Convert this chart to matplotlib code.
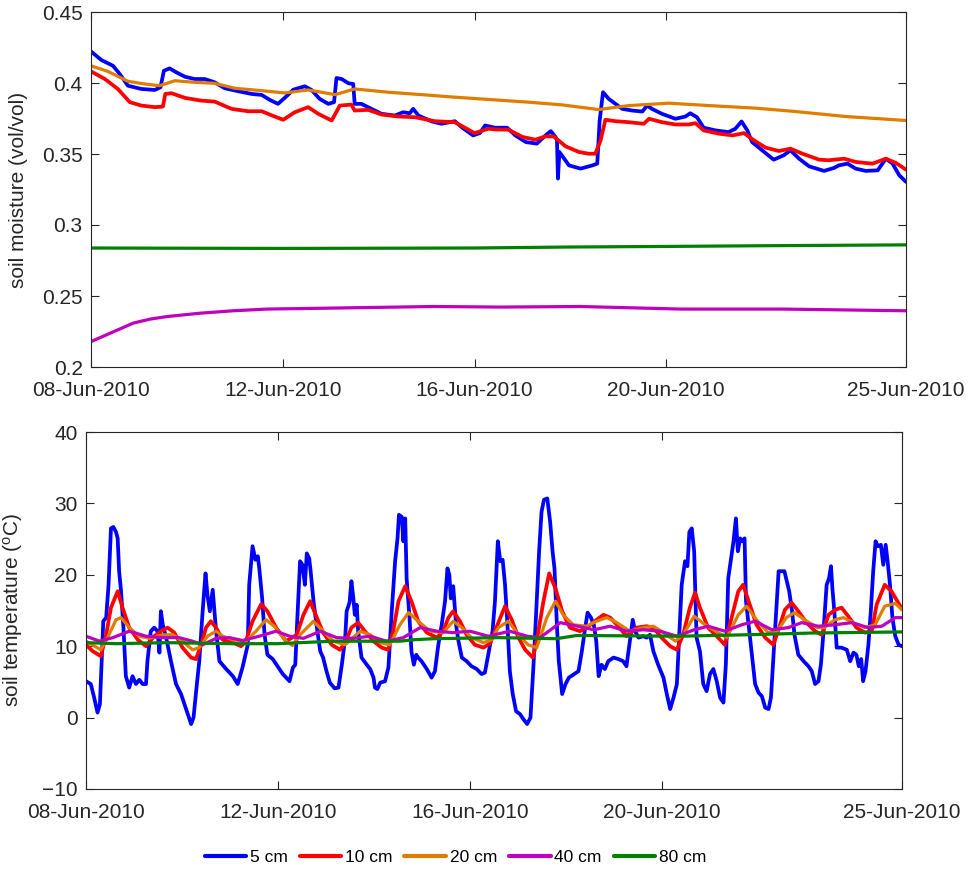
import datetime as dt
import matplotlib
matplotlib.use("Agg")
import matplotlib.pyplot as plt
import matplotlib.dates as mdates
import numpy as np

plt.rcParams['font.family'] = ['Liberation Sans', 'DejaVu Sans']
plt.rcParams['mathtext.fontset'] = 'custom'
plt.rcParams['mathtext.rm'] = 'Liberation Sans'
plt.rcParams['mathtext.it'] = 'Liberation Sans'

START = dt.datetime(2010, 6, 8)
END = dt.datetime(2010, 6, 25)

depths = ['5 cm', '10 cm', '20 cm', '40 cm', '80 cm']
colors = ['#0000ff', '#ff0000', '#de7d00', '#bf00bf', '#008000']
widths = [2.7, 2.7, 2.3, 2.3, 2.3]

xtick_dates = ['2010-06-08', '2010-06-12', '2010-06-16', '2010-06-20', '2010-06-25']

# ---- soil moisture (vol/vol), time in days since 08-Jun-2010 ----
sm5_day = [0, 0.22, 0.46, 0.60, 0.77, 1.05, 1.33, 1.45, 1.52, 1.64,
           1.78, 1.96, 2.16, 2.37, 2.58, 2.79, 3.07, 3.35, 3.56, 3.73,
           3.90, 4.04, 4.22, 4.46, 4.60, 4.77, 4.95, 5.07, 5.12, 5.23,
           5.37, 5.47, 5.50, 5.64, 5.85, 6.06, 6.34, 6.51, 6.65, 6.72,
           6.83, 7.11, 7.31, 7.59, 7.73, 7.97, 8.11, 8.22, 8.43, 8.68,
           8.85, 9.07, 9.30, 9.48, 9.59, 9.69, 9.72, 9.74, 9.77, 9.97,
           10.21, 10.46, 10.56, 10.61, 10.68, 10.80, 10.94, 11.08, 11.29, 11.50,
           11.60, 11.70, 11.91, 12.19, 12.40, 12.50, 12.64, 12.78, 13.03, 13.30,
           13.44, 13.57, 13.69, 13.79, 14.00, 14.24, 14.45, 14.59, 14.77, 14.98,
           15.29, 15.50, 15.60, 15.78, 15.95, 16.16, 16.41, 16.58, 16.72, 16.86,
           17.0]
sm5_val = [0.4222, 0.4161, 0.4121, 0.4063, 0.3981, 0.3958, 0.3951, 0.3970, 0.4086, 0.4103,
           0.4075, 0.4044, 0.4028, 0.4028, 0.4005, 0.3963, 0.3942, 0.3923, 0.3916, 0.3881,
           0.3853, 0.3895, 0.3953, 0.3977, 0.3951, 0.3888, 0.3853, 0.3865, 0.4035, 0.4028,
           0.3998, 0.3993, 0.3853, 0.3853, 0.3818, 0.3783, 0.3771, 0.3794, 0.3787, 0.3818,
           0.3771, 0.3729, 0.3713, 0.3731, 0.3689, 0.3631, 0.3647, 0.3701, 0.3685, 0.3685,
           0.3631, 0.3584, 0.3573, 0.3631, 0.3661, 0.3620, 0.3596, 0.3327, 0.3514, 0.3420,
           0.3397, 0.3420, 0.3432, 0.3736, 0.3935, 0.3888, 0.3853, 0.3818, 0.3806, 0.3799,
           0.3841, 0.3818, 0.3783, 0.3748, 0.3764, 0.3787, 0.3759, 0.3685, 0.3666, 0.3654,
           0.3678, 0.3729, 0.3666, 0.3584, 0.3526, 0.3460, 0.3491, 0.3526, 0.3467, 0.3413,
           0.3381, 0.3402, 0.3420, 0.3432, 0.3397, 0.3381, 0.3385, 0.3467, 0.3432, 0.3350,
           0.3304]

sm10_day = [0, 0.29, 0.56, 0.81, 1.05, 1.33, 1.50, 1.55, 1.68, 1.96,
            2.30, 2.58, 2.93, 3.28, 3.56, 3.83, 4.01, 4.25, 4.53, 4.74,
            5.02, 5.19, 5.43, 5.50, 5.78, 6.06, 6.41, 6.76, 7.17, 7.59,
            7.80, 8.00, 8.29, 8.43, 8.71, 9.00, 9.27, 9.48, 9.65, 9.90,
            10.18, 10.38, 10.52, 10.63, 10.73, 10.94, 11.22, 11.53, 11.64, 11.91,
            12.19, 12.47, 12.61, 12.78, 13.10, 13.38, 13.62, 13.83, 14.07, 14.35,
            14.59, 14.84, 15.19, 15.39, 15.71, 15.95, 16.30, 16.58, 16.79, 17.0]
sm10_val = [0.4082, 0.4028, 0.3958, 0.3865, 0.3841, 0.3830, 0.3834, 0.3923, 0.3928, 0.3895,
            0.3876, 0.3869, 0.3818, 0.3801, 0.3801, 0.3764, 0.3741, 0.3794, 0.3830, 0.3783,
            0.3736, 0.3841, 0.3848, 0.3806, 0.3811, 0.3778, 0.3764, 0.3759, 0.3731, 0.3724,
            0.3685, 0.3647, 0.3678, 0.3673, 0.3671, 0.3620, 0.3601, 0.3624, 0.3624, 0.3554,
            0.3514, 0.3502, 0.3502, 0.3596, 0.3741, 0.3731, 0.3724, 0.3713, 0.3748, 0.3724,
            0.3708, 0.3708, 0.3717, 0.3666, 0.3643, 0.3631, 0.3647, 0.3596, 0.3545, 0.3521,
            0.3538, 0.3502, 0.3460, 0.3456, 0.3467, 0.3444, 0.3432, 0.3467, 0.3437, 0.3390]

sm20_day = [0, 0.35, 0.77, 1.12, 1.43, 1.75, 2.16, 2.58, 3.00, 3.56,
            4.04, 4.53, 5.09, 5.50, 6.20, 6.90, 7.59, 8.43, 9.13, 9.82,
            10.59, 11.22, 12.05, 12.89, 13.86, 14.70, 15.74, 17.0]
sm20_val = [0.4121, 0.4082, 0.4012, 0.3993, 0.3981, 0.4016, 0.4005, 0.3998, 0.3963, 0.3946,
            0.3930, 0.3951, 0.3918, 0.3958, 0.3935, 0.3918, 0.3900, 0.3881, 0.3865, 0.3846,
            0.3813, 0.3841, 0.3858, 0.3841, 0.3823, 0.3799, 0.3764, 0.3736]

sm40_day = [0, 0.4, 0.88, 1.23, 1.58, 2.28, 2.97, 3.67, 5.06, 7.14,
            8.54, 10.2, 12.3, 14.4, 17.0]
sm40_val = [0.2179, 0.2238, 0.2309, 0.2337, 0.2355, 0.2379, 0.2396, 0.2408, 0.2415, 0.2426,
            0.2422, 0.2426, 0.2408, 0.2408, 0.2396]

sm80_day = [0, 4, 8, 10, 12, 14, 17]
sm80_val = [0.2838, 0.2835, 0.2838, 0.2845, 0.2849, 0.2854, 0.2860]

# ---- soil temperature (deg C) ----
t5_day = [0, 0.10, 0.17, 0.24, 0.29, 0.33, 0.36, 0.42, 0.47, 0.52,
          0.57, 0.625, 0.66, 0.69, 0.73, 0.78, 0.83, 0.90, 0.97, 1.04,
          1.11, 1.18, 1.25, 1.28, 1.35, 1.42, 1.49, 1.53, 1.56, 1.60,
          1.67, 1.77, 1.875, 1.98, 2.05, 2.12, 2.19, 2.24, 2.31, 2.36,
          2.43, 2.49, 2.53, 2.58, 2.64, 2.71, 2.78, 2.92, 3.06, 3.16,
          3.26, 3.37, 3.40, 3.47, 3.53, 3.58, 3.61, 3.67, 3.72, 3.78,
          3.89, 3.99, 4.10, 4.24, 4.31, 4.36, 4.40, 4.46, 4.51, 4.56,
          4.60, 4.65, 4.68, 4.74, 4.81, 4.88, 4.94, 5.01, 5.08, 5.18,
          5.26, 5.33, 5.40, 5.43, 5.49, 5.53, 5.57, 5.60, 5.64, 5.67,
          5.74, 5.85, 5.92, 5.99, 6.02, 6.07, 6.13, 6.23, 6.30, 6.37,
          6.44, 6.49, 6.52, 6.58, 6.61, 6.65, 6.68, 6.74, 6.78, 6.83,
          6.88, 6.92, 6.99, 7.10, 7.20, 7.27, 7.34, 7.41, 7.48, 7.53,
          7.57, 7.60, 7.65, 7.71, 7.76, 7.83, 7.93, 8.03, 8.14, 8.24,
          8.31, 8.38, 8.47, 8.52, 8.58, 8.63, 8.68, 8.73, 8.78, 8.83,
          8.89, 8.96, 9.04, 9.11, 9.19, 9.26, 9.32, 9.38, 9.44, 9.49,
          9.54, 9.61, 9.67, 9.72, 9.76, 9.81, 9.85, 9.92, 9.99, 10.06,
          10.17, 10.26, 10.33, 10.40, 10.45, 10.52, 10.58, 10.63, 10.68, 10.74,
          10.81, 10.88, 10.99, 11.09, 11.19, 11.26, 11.33, 11.39, 11.44, 11.51,
          11.61, 11.68, 11.75, 11.82, 11.92, 12.03, 12.10, 12.17, 12.24, 12.31,
          12.36, 12.41, 12.48, 12.53, 12.57, 12.62, 12.67, 12.72, 12.79, 12.86,
          12.93, 13.00, 13.07, 13.14, 13.21, 13.28, 13.33, 13.38, 13.44, 13.49,
          13.54, 13.58, 13.63, 13.67, 13.72, 13.75, 13.81, 13.88, 13.94, 14.01,
          14.08, 14.15, 14.22, 14.27, 14.32, 14.37, 14.43, 14.48, 14.55, 14.60,
          14.65, 14.71, 14.76, 14.84, 14.95, 15.05, 15.12, 15.19, 15.26, 15.31,
          15.36, 15.43, 15.48, 15.52, 15.55, 15.59, 15.64, 15.74, 15.85, 15.92,
          15.99, 16.05, 16.10, 16.15, 16.19, 16.24, 16.30, 16.35, 16.40, 16.45,
          16.50, 16.56, 16.61, 16.66, 16.70, 16.75, 16.80, 16.86, 16.93, 17.0]
t5_val = [5.1, 4.7, 2.8, 0.7, 1.9, 8.4, 13.5, 14.0, 18.6, 26.5,
          26.7, 26.0, 25.1, 20.5, 17.7, 12.6, 5.8, 4.2, 5.8, 4.7,
          5.3, 4.7, 4.7, 7.9, 12.1, 12.6, 12.1, 9.1, 14.9, 13.0,
          11.2, 7.9, 4.7, 3.3, 1.9, 0.5, -0.9, 0.0, 4.7, 7.9,
          14.9, 20.2, 17.2, 14.9, 17.9, 12.1, 7.9, 6.8, 5.8, 4.7,
          7.0, 10.2, 18.6, 24.0, 22.1, 22.6, 20.9, 16.7, 11.6, 8.8,
          8.2, 7.2, 6.1, 5.1, 7.0, 7.4, 13.5, 21.9, 21.4, 18.6,
          23.0, 22.3, 20.5, 16.3, 12.6, 9.3, 8.4, 6.5, 4.9, 4.1,
          4.2, 7.4, 11.2, 14.9, 16.1, 19.1, 16.7, 14.4, 15.8, 12.1,
          8.4, 7.4, 6.8, 5.6, 4.2, 4.0, 4.9, 5.1, 7.0, 14.9,
          21.9, 25.1, 28.4, 28.1, 24.7, 27.9, 19.5, 14.0, 9.3, 7.4,
          8.8, 8.4, 7.9, 6.8, 5.6, 6.5, 10.2, 13.0, 16.3, 20.9,
          20.0, 16.7, 18.4, 13.0, 10.7, 8.4, 7.9, 7.2, 6.8, 6.1,
          6.3, 8.8, 12.1, 16.3, 24.7, 21.9, 22.1, 18.6, 13.0, 6.5,
          3.3, 0.9, 0.5, -0.2, -0.9, 0.0, 7.0, 14.9, 23.3, 28.8,
          30.5, 30.7, 27.4, 23.3, 20.9, 13.0, 7.9, 3.3, 4.7, 5.6,
          6.1, 6.5, 9.3, 12.6, 14.7, 14.0, 13.0, 10.7, 5.8, 7.4,
          6.8, 7.9, 8.4, 8.2, 7.9, 7.2, 10.7, 13.7, 12.1, 11.2,
          11.4, 11.2, 11.6, 9.3, 7.4, 5.6, 3.3, 1.2, 2.8, 4.7,
          11.6, 18.6, 21.9, 21.2, 26.0, 26.5, 23.3, 11.2, 9.3, 4.7,
          3.7, 6.1, 6.8, 5.1, 2.8, 2.1, 7.4, 19.5, 22.3, 24.7,
          27.9, 23.3, 25.1, 24.7, 25.1, 16.3, 12.6, 8.4, 4.7, 3.5,
          3.0, 1.4, 1.2, 2.8, 8.4, 14.0, 20.5, 20.5, 20.5, 19.1,
          17.7, 14.9, 11.6, 8.8, 7.9, 7.2, 6.5, 4.7, 5.1, 7.4,
          11.6, 18.6, 19.5, 21.2, 18.1, 14.9, 9.8, 9.8, 9.5, 7.9,
          9.1, 8.8, 7.2, 8.2, 5.1, 6.5, 10.2, 14.9, 20.5, 24.7,
          24.0, 24.2, 21.4, 24.2, 21.9, 18.6, 14.0, 11.4, 10.2, 10.0]

t10_day = [0, 0.14, 0.31, 0.42, 0.52, 0.66, 0.76, 0.90, 1.08, 1.25,
           1.42, 1.56, 1.70, 1.84, 2.01, 2.19, 2.29, 2.40, 2.50, 2.60,
           2.71, 2.85, 3.06, 3.23, 3.33, 3.47, 3.65, 3.78, 3.96, 4.17,
           4.39, 4.53, 4.67, 4.81, 4.94, 5.12, 5.29, 5.40, 5.53, 5.67,
           5.81, 5.99, 6.16, 6.30, 6.40, 6.51, 6.65, 6.78, 6.92, 7.10,
           7.31, 7.44, 7.55, 7.65, 7.79, 7.93, 8.10, 8.28, 8.42, 8.56,
           8.73, 8.87, 9.01, 9.15, 9.31, 9.39, 9.53, 9.65, 9.78, 9.92,
           10.08, 10.29, 10.47, 10.60, 10.78, 10.92, 11.09, 11.26, 11.47, 11.68,
           11.82, 11.99, 12.17, 12.31, 12.44, 12.58, 12.69, 12.79, 12.96, 13.14,
           13.31, 13.45, 13.59, 13.69, 13.83, 13.97, 14.15, 14.32, 14.46, 14.56,
           14.70, 14.84, 15.01, 15.19, 15.33, 15.47, 15.61, 15.74, 15.88, 16.05,
           16.23, 16.37, 16.47, 16.64, 16.78, 17.0]
t10_val = [10.2, 9.3, 8.6, 11.6, 15.4, 17.7, 15.4, 12.6, 10.9, 10.0,
           11.4, 12.1, 12.6, 11.9, 9.8, 8.4, 8.2, 10.2, 12.6, 13.5,
           12.6, 10.9, 10.5, 10.0, 10.7, 13.5, 15.9, 14.9, 12.6, 10.7,
           11.6, 14.4, 16.3, 14.0, 11.9, 10.2, 9.5, 10.5, 12.6, 13.3,
           12.1, 10.7, 9.8, 9.5, 12.1, 16.3, 18.4, 16.3, 13.5, 11.9,
           11.2, 12.1, 14.0, 14.9, 13.5, 11.6, 10.2, 9.8, 10.4, 12.8,
           15.6, 13.7, 11.2, 9.5, 8.4, 10.7, 16.3, 20.2, 18.1, 14.9,
           12.6, 12.1, 12.8, 13.5, 14.4, 14.0, 12.8, 11.4, 12.6, 12.8,
           12.6, 11.2, 10.0, 9.5, 11.6, 15.4, 17.5, 15.4, 12.6, 11.4,
           10.2, 14.0, 17.7, 18.6, 15.8, 13.0, 11.2, 10.2, 13.0, 15.1,
           16.1, 14.9, 13.3, 12.1, 11.6, 14.4, 15.1, 15.4, 14.2, 12.6,
           11.9, 12.1, 15.8, 18.6, 17.7, 15.2]

t20_day = [0, 0.31, 0.45, 0.625, 0.73, 0.90, 1.11, 1.32, 1.60, 1.81,
           2.01, 2.22, 2.36, 2.53, 2.71, 2.85, 3.06, 3.33, 3.54, 3.75,
           3.92, 4.17, 4.30, 4.46, 4.74, 4.94, 5.15, 5.40, 5.71, 5.92,
           6.13, 6.33, 6.54, 6.72, 6.92, 7.17, 7.44, 7.65, 7.83, 8.03,
           8.28, 8.45, 8.59, 8.80, 9.01, 9.21, 9.39, 9.60, 9.78, 9.94,
           10.15, 10.42, 10.64, 10.85, 11.06, 11.33, 11.61, 11.82, 12.03, 12.28,
           12.44, 12.67, 12.90, 13.17, 13.35, 13.59, 13.76, 13.97, 14.21, 14.38,
           14.59, 14.76, 14.97, 15.24, 15.38, 15.60, 15.78, 15.99, 16.23, 16.44,
           16.64, 16.86, 17.0]
t20_val = [10.7, 9.5, 11.2, 13.7, 14.0, 12.6, 11.4, 11.1, 11.6, 11.6,
           10.7, 9.5, 9.8, 11.4, 12.1, 11.4, 10.9, 10.7, 12.1, 13.7,
           12.8, 10.7, 10.1, 11.6, 13.5, 12.1, 10.7, 10.2, 12.1, 11.6,
           10.5, 10.2, 13.0, 14.7, 13.5, 12.1, 11.9, 13.5, 12.6, 11.2,
           10.5, 10.9, 12.6, 13.5, 11.6, 10.2, 9.8, 14.0, 16.3, 14.4,
           13.0, 12.8, 13.5, 14.0, 13.3, 12.1, 12.6, 12.8, 11.9, 10.7,
           11.6, 14.2, 13.0, 11.9, 11.2, 14.4, 15.6, 13.7, 11.9, 11.9,
           14.0, 14.7, 13.7, 12.6, 12.6, 13.7, 14.0, 13.3, 12.6, 13.0,
           15.6, 16.0, 15.1]

t40_day = [0, 0.28, 0.56, 0.90, 1.25, 1.60, 1.94, 2.22, 2.43, 2.71,
           2.99, 3.26, 3.61, 3.96, 4.24, 4.53, 4.88, 5.22, 5.57, 5.92,
           6.26, 6.61, 6.96, 7.31, 7.65, 8.00, 8.38, 8.83, 9.19, 9.46,
           9.88, 10.24, 10.58, 10.92, 11.26, 11.61, 11.96, 12.31, 12.67, 12.96,
           13.31, 13.66, 13.94, 14.29, 14.63, 14.91, 15.26, 15.60, 15.95, 16.30,
           16.58, 16.86, 17.0]
t40_val = [11.4, 10.7, 11.2, 12.1, 11.4, 11.2, 11.2, 10.7, 10.2, 11.1,
           11.2, 10.8, 11.4, 12.1, 11.4, 11.1, 12.1, 11.2, 11.1, 11.4,
           10.7, 11.2, 12.6, 12.1, 11.9, 12.1, 11.4, 12.1, 11.4, 11.2,
           13.3, 12.8, 12.3, 12.8, 12.1, 12.3, 12.1, 11.4, 12.3, 12.8,
           12.1, 13.0, 13.5, 12.3, 12.6, 13.3, 12.8, 13.0, 13.3, 12.6,
           12.8, 14.0, 14.0]

t80_day = [0, 0.64, 1.68, 3.07, 3.97, 5.15, 6.54, 6.82, 7.24, 8.6,
           9.8, 10.22, 12.38, 13.76, 15.15, 17.0]
t80_val = [10.5, 10.35, 10.5, 10.35, 10.35, 10.7, 10.7, 10.9, 11.05, 11.2,
           11.05, 11.5, 11.4, 11.6, 11.85, 12.0]

moisture = [(sm5_day, sm5_val), (sm10_day, sm10_val), (sm20_day, sm20_val),
            (sm40_day, sm40_val), (sm80_day, sm80_val)]
temperature = [(t5_day, t5_val), (t10_day, t10_val), (t20_day, t20_val),
               (t40_day, t40_val), (t80_day, t80_val)]


def to_dates(days):
    return [START + dt.timedelta(days=float(d)) for d in days]


AX_COLOR = '#262626'
FS = 15

fig = plt.figure(figsize=(9.69, 8.75), dpi=100)
ax1 = fig.add_axes([91 / 969, 1 - 367 / 875, 815 / 969, 355 / 875])
ax2 = fig.add_axes([86 / 969, 1 - 789 / 875, 816 / 969, 357 / 875])

for ax, series in ((ax1, moisture), (ax2, temperature)):
    for (d, v), lab, c, lw in zip(series, depths, colors, widths):
        ax.plot(to_dates(d), v, color=c, lw=lw, label=lab,
                solid_joinstyle='round', solid_capstyle='round')
    ax.set_xlim(START, END)
    ax.set_xticks([dt.datetime.strptime(s, '%Y-%m-%d') for s in xtick_dates])
    ax.xaxis.set_major_formatter(mdates.DateFormatter('%d-%b-%Y'))
    ax.tick_params(direction='in', length=6, width=0.8, colors=AX_COLOR,
                   labelsize=FS, top=True, right=True)
    ax.tick_params(axis='x', pad=10)
    ax.tick_params(axis='y', pad=6)
    for sp in ax.spines.values():
        sp.set_color(AX_COLOR)
        sp.set_linewidth(0.8)

ax1.set_ylim(0.2, 0.45)
ax1.set_yticks([0.2, 0.25, 0.3, 0.35, 0.4, 0.45])
ax1.set_yticklabels(['0.2', '0.25', '0.3', '0.35', '0.4', '0.45'])
ax1.set_ylabel('soil moisture (vol/vol)', fontsize=FS, color=AX_COLOR, labelpad=10)

ax2.set_ylim(-10, 40)
ax2.set_yticks([-10, 0, 10, 20, 30, 40])
ax2.set_ylabel(r'soil temperature ($^{\mathrm{o}}$C)', fontsize=FS,
               color=AX_COLOR, labelpad=12)

handles, labels = ax2.get_legend_handles_labels()
leg = fig.legend(handles, labels, loc='center', bbox_to_anchor=(0.47, 0.02),
                 ncol=5, frameon=False, fontsize=12.5, handlelength=2.4,
                 handletextpad=0.2, columnspacing=0.7)
for line in leg.get_lines():
    line.set_linewidth(3.0)

fig.savefig('out.png', dpi=100)
